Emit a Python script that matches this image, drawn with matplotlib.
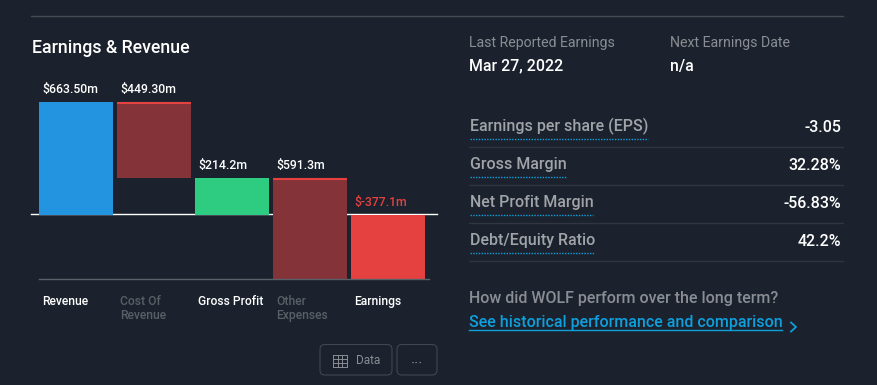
import matplotlib
matplotlib.use("Agg")
import matplotlib.pyplot as plt
from matplotlib.patches import FancyBboxPatch

plt.rcParams["font.family"] = ["Roboto", "DejaVu Sans"]

BG = "#1b222d"
BLUE = "#2394df"
GREEN = "#2ecc80"
RED = "#e64141"
DARK_RED = "#843339"
WHITE = "#ffffff"
GREY = "#8a8d93"
DIM = "#5a5e66"
LINK = "#0e9fdc"

# waterfall data
categories = ["Revenue", "Cost Of\nRevenue", "Gross Profit", "Other\nExpenses", "Earnings"]
tops = [663.5, 663.5, 214.2, 214.2, 0]
bottoms = [0, 214.2, 0, -377.1, -377.1]
value_labels = ["$663.50m", "$449.30m", "$214.2m", "$591.3m", "$-377.1m"]
bar_colors = [BLUE, DARK_RED, GREEN, DARK_RED, RED]
label_colors = [WHITE, DIM, WHITE, DIM, WHITE]
value_colors = [WHITE, WHITE, WHITE, WHITE, RED]
expense_bars = [1, 3]

# right hand side
stat_names = ["Earnings per share (EPS)", "Gross Margin", "Net Profit Margin", "Debt/Equity Ratio"]
stat_values = ["-3.05", "32.28%", "-56.83%", "42.2%"]
stat_y = [125, 163, 201, 239]
underline_end = [648, 566, 593, 595]

W, H = 877, 385
fig = plt.figure(figsize=(W / 100, H / 100), dpi=100, facecolor=BG)

# overlay in pixel coordinates for the page furniture
page = fig.add_axes([0, 0, 1, 1])
page.set_xlim(0, W)
page.set_ylim(H, 0)
page.axis("off")

# chart axes, about 5.87 per pixel
left, right, top_px, bottom_px = 39, 429, 60, 279
ax = fig.add_axes([left / W, 1 - bottom_px / H, (right - left) / W, (bottom_px - top_px) / H])
ax.patch.set_alpha(0)
ax.set_xlim(-0.474, 4.526)
ax.set_ylim(-377.1, (bottom_px - top_px) * 5.87 - 377.1)
for s in ["top", "left", "right"]:
    ax.spines[s].set_visible(False)
ax.spines["bottom"].set_color("#5a6068")
ax.spines["bottom"].set_linewidth(1)
ax.set_xticks([])
ax.set_yticks([])

xs = list(range(len(categories)))
bar_w = 74 / 78
heights = [t - b for t, b in zip(tops, bottoms)]
ax.bar(xs, heights, bottom=bottoms, width=bar_w, color=bar_colors, linewidth=0)

for i in expense_bars:
    ax.hlines(tops[i] - 5, i - bar_w / 2, i + bar_w / 2, color=RED, linewidth=1.5)

for i, x in enumerate(xs):
    ax.annotate(value_labels[i], (x - bar_w / 2, tops[i]), xytext=(2.7, 4.2), textcoords="offset points",
                color=value_colors[i], fontsize=8.85, fontweight="medium", ha="left", va="bottom")
    ax.annotate(categories[i], (x - bar_w / 2, 0), xycoords=("data", "axes fraction"), xytext=(2.3, -11.7),
                textcoords="offset points", color=label_colors[i], fontsize=8.7, fontweight="medium",
                ha="left", va="top", linespacing=1.1)

page.plot([31, 843], [16, 16], color="#464b53", lw=1)
page.text(31.5, 48, "Earnings & Revenue", color=WHITE, fontsize=12.8, fontweight="medium", va="center")

# zero line runs past the bars
page.plot([31, 437], [214, 214], color=WHITE, lw=1, zorder=5)

# buttons
for x0, x1 in [(320, 392), (397, 437)]:
    page.add_patch(FancyBboxPatch((x0, 344.5), x1 - x0, 30.5, boxstyle="round,pad=0,rounding_size=5",
                                  fc="none", ec="#41464f", lw=0.8))
for y in [354.5, 358.5, 362.5, 366.5]:
    page.plot([333, 347], [y, y], color=GREY, lw=0.7)
for x in [333, 338, 342, 347]:
    page.plot([x, x], [354.5, 366.5], color=GREY, lw=0.7)
page.text(356, 360, "Data", color=GREY, fontsize=8.5, va="center")
page.text(417, 364, "···", color=GREY, fontsize=11.5, va="center", ha="center")

# earnings dates
page.text(469, 43, "Last Reported Earnings", color=GREY, fontsize=10.15, va="center")
page.text(670, 43, "Next Earnings Date", color=GREY, fontsize=10.15, va="center")
page.text(469, 66, "Mar 27, 2022", color=WHITE, fontsize=11.4, fontweight="medium", va="center")
page.text(670, 66, "n/a", color=WHITE, fontsize=11.4, fontweight="medium", va="center")

# stat rows
for name, val, y, end in zip(stat_names, stat_values, stat_y, underline_end):
    page.text(470, y + 1.5, name, color="#a0a3a8", fontsize=11.55, fontweight="medium", va="center")
    page.text(841, y + 2, val, color=WHITE, fontsize=11.55, fontweight="medium", va="center", ha="right")
    page.plot([470, end], [y + 13.5, y + 13.5], color=LINK, lw=1, ls=(0, (1, 1)))
    page.plot([469, 843], [y + 22, y + 22], color="#30363f", lw=1)

# link to history
page.text(469, 298, "How did WOLF perform over the long term?", color=GREY, fontsize=11.55,
          fontweight="medium", va="center")
page.text(469, 322, "See historical performance and comparison", color=LINK, fontsize=11.52,
          fontweight="medium", va="center")
page.plot([469, 782], [329.5, 329.5], color=LINK, lw=1)
page.plot([791, 796, 791], [322.5, 327, 331.5], color=LINK, lw=1.3)

fig.savefig("out.png", dpi=100, facecolor=BG)
